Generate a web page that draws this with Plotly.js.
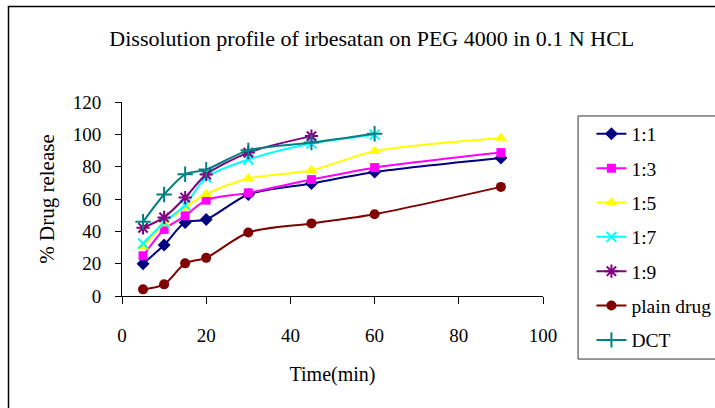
<!DOCTYPE html>
<html>
<head>
<meta charset="utf-8">
<script src="https://cdn.plot.ly/plotly-3.0.1.min.js"></script>
<style>
html,body{margin:0;padding:0;background:#fff;}
#chart{width:715px;height:408px;}
</style>
</head>
<body>
<div id="chart"></div>
<script>
const time = [5, 10, 15, 20, 30, 45, 60, 90];
const r11 = [20, 31.5, 45.5, 47.3, 62.8, 69.6, 76.7, 85.4];
const r13 = [24.9, 41.2, 49.6, 59.3, 63.8, 72, 79.4, 88.7];
const r15 = [30.4, 44.9, 54.8, 63, 72.7, 77.8, 89.5, 97.7];
const r17 = [32.5, 45.5, 56.2, 73.3, 84.4, 94.3, 99.8];
const r19 = [42.2, 48.6, 60.9, 75.1, 88.7, 98.9];
const plain = [4.1, 7.2, 20.2, 23.6, 39.3, 44.9, 50.6, 67.5];
const dct = [45.9, 62.8, 75.3, 78.2, 90.1, 94.9, 100.4];
const seriesNames = ["1:1", "1:3", "1:5", "1:7", "1:9", "plain drug", "DCT"];
const xTicks = [0, 20, 40, 60, 80, 100];
const yTicks = [0, 20, 40, 60, 80, 100, 120];

const styles = [
  {color: "#000080", symbol: "diamond", size: 10, lw: 0},
  {color: "#FF00FF", symbol: "square", size: 9, lw: 0},
  {color: "#FFFF00", symbol: "triangle-up", size: 11, lw: 0},
  {color: "#00FFFF", symbol: "x-thin", size: 10, lw: 2},
  {color: "#800080", symbol: "asterisk", size: 11, lw: 2},
  {color: "#800000", symbol: "circle", size: 10, lw: 0},
  {color: "#008080", symbol: "cross-thin", size: 11, lw: 2}
];
const values = [r11, r13, r15, r17, r19, plain, dct];

const traces = values.map((v, i) => ({
  x: time.slice(0, v.length),
  y: v,
  name: seriesNames[i],
  legendgroup: "g" + i,
  type: "scatter",
  mode: "lines+markers",
  line: {color: styles[i].color, width: 2, shape: "spline", smoothing: 0.8},
  marker: {color: styles[i].color, symbol: styles[i].symbol, size: styles[i].size,
           line: {color: styles[i].color, width: styles[i].lw}}
}));

const font = "Times New Roman, Liberation Serif, serif";
const layout = {
  width: 715, height: 408,
  margin: {l: 122, r: 172, t: 102, b: 112, autoexpand: false},
  paper_bgcolor: "#fff", plot_bgcolor: "#fff",
  font: {family: font, size: 19, color: "#000"},
  title: {text: "Dissolution profile of irbesatan on PEG 4000 in 0.1 N HCL",
          font: {family: font, size: 22, color: "#000"},
          x: 0.52, xanchor: "center", y: 0.905, yanchor: "middle"},
  xaxis: {range: [0, 100], tickvals: xTicks, ticktext: xTicks.map(String),
          showgrid: false, zeroline: false, showline: true, linecolor: "#000", linewidth: 1,
          ticks: "outside", ticklen: 7, tickcolor: "#000", ticklabelstandoff: 15,
          tickfont: {family: font, size: 19, color: "#000"},
          title: {text: "Time(min)", font: {family: font, size: 20, color: "#000"}, standoff: 22}},
  yaxis: {range: [0, 120], tickvals: yTicks, ticktext: yTicks.map(String),
          showgrid: false, zeroline: false, showline: true, linecolor: "#000", linewidth: 1,
          ticks: "outside", ticklen: 6, tickcolor: "#000", ticklabelstandoff: 10,
          tickfont: {family: font, size: 19, color: "#000"},
          title: {text: "% Drug release", font: {family: font, size: 21, color: "#000"}, standoff: 12}},
  showlegend: true,
  legend: {x: 1.115, xanchor: "left", y: 0.935, yanchor: "top", maxheight: 400,
           bgcolor: "rgba(0,0,0,0)", borderwidth: 0, tracegroupgap: 6,
           font: {family: font, size: 19.5, color: "#000"}},
  shapes: [
    {type: "rect", xref: "paper", yref: "paper", x0: -0.2696, x1: 3, y0: -2, y1: 1.492,
     line: {color: "#000", width: 1.5}, fillcolor: "rgba(0,0,0,0)", layer: "below"},
    {type: "rect", xref: "paper", yref: "paper", x0: 1.0833, x1: 3, y0: -0.325, y1: 0.928,
     line: {color: "#333", width: 1}, fillcolor: "rgba(0,0,0,0)", layer: "below"}
  ]
};

Plotly.newPlot("chart", traces, layout, {displayModeBar: false, staticPlot: true});
</script>
</body>
</html>
